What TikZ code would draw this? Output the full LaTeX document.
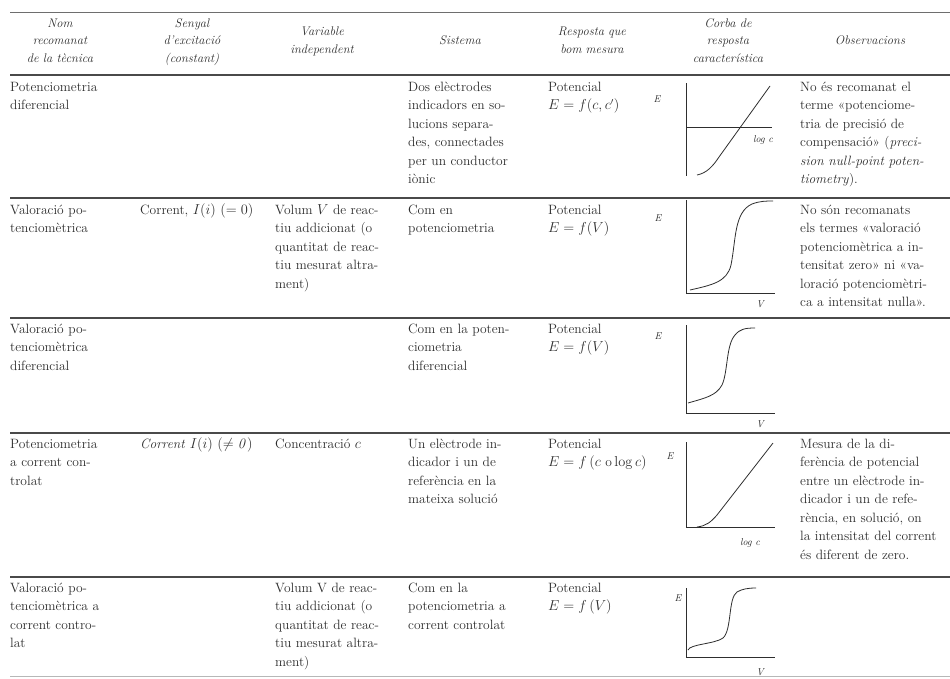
\documentclass[tikz,border=0pt]{standalone}
\usepackage{amsmath}
\usepackage{xcolor}
\usetikzlibrary{positioning}
\definecolor{inkgray}{HTML}{2E2E2E}
\definecolor{rulegray}{HTML}{4A4A4A}

\tikzset{
  cell/.style={anchor=base west, inner sep=0pt, text width=#1, align=left,
    font=\fontsize{13.5}{18.5}\selectfont, text=inkgray},
  cell/.default=130pt,
  head/.style={anchor=base, inner sep=0pt, text width=130pt, align=center,
    font=\fontsize{12.5}{17.5}\selectfont\itshape, text=inkgray},
  toprule/.style={draw=rulegray!80, line width=0.7pt},
  rowrule/.style={draw=rulegray, line width=1.3pt},
  axis/.style={draw=inkgray, line width=0.7pt},
  resp/.style={draw=inkgray, line width=0.8pt},
  axlabel/.style={inner sep=0pt, font=\fontsize{10}{12}\selectfont\itshape, text=inkgray}
}

\begin{document}
\begin{tikzpicture}[x=1pt, y=-1pt]
    \useasboundingbox (0,0) rectangle (950,678);
    \fill[white] (0,0) rectangle (950,678);

    % Rules
    \draw[toprule] (10,12) -- (950,12);
    \draw[rowrule] (10,75) -- (950,75);
    \draw[rowrule] (10,198) -- (950,198);
    \draw[rowrule] (10,318) -- (950,318);
    \draw[rowrule] (10,433) -- (950,433);
    \draw[rowrule] (10,577) -- (950,577);
    \draw[toprule, rulegray!40] (10,676) -- (950,676);

    % Header
    \node[head] (hnom) at (60,27) {Nom\\recomanat\\de la tècnica};
    \node[head] (hsenyal) at (192,27) {Senyal\\d'excitació\\(constant)};
    \node[head] (hvar) at (322,35.5) {Variable\\independent};
    \node[head] (hsis) at (460,44.5) {Sistema};
    \node[head] (hresp) at (592,35.5) {Resposta que\\bom mesura};
    \node[head] (hcorba) at (728,27) {Corba de\\resposta\\característica};
    \node[head] (hobs) at (870,44.5) {Observacions};

    % Row 1
    \node[cell] (nom1) at (10,91) {Potenciometria\\diferencial};
    \node[cell] (sis1) at (408,91) {Dos elèctrodes\\indicadors en so-\\lucions separa-\\des, connectades\\per un conductor\\iònic};
    \node[cell] (resp1) at (548,91) {Potencial\\$E=f(c,c')$};
    \node[cell=160pt] (obs1) at (800,91) {No és recomanat el\\terme «potenciome-\\tria de precisió de\\compensació» (\textit{preci-}\\\textit{sion null-point poten-}\\\textit{tiometry}).};

    % Row 2
    \node[cell] (nom2) at (10,214) {Valoració po-\\tenciomètrica};
    \node[cell] (sen2) at (140,214) {Corrent, $I(i)$ $(=0)$};
    \node[cell] (var2) at (275,214) {Volum $V$ de reac-\\tiu addicionat (o\\quantitat de reac-\\tiu mesurat altra-\\ment)};
    \node[cell] (sis2) at (408,214) {Com en\\potenciometria};
    \node[cell] (resp2) at (548,214) {Potencial\\$E=f(V)$};
    \node[cell=160pt] (obs2) at (800,214) {No són recomanats\\els termes «valoració\\potenciomètrica a in-\\tensitat zero» ni «va-\\loració potenciomètri-\\ca a intensitat nulla».};

    % Row 3
    \node[cell] (nom3) at (10,333) {Valoració po-\\tenciomètrica\\diferencial};
    \node[cell] (sis3) at (408,333) {Com en la poten-\\ciometria\\diferencial};
    \node[cell] (resp3) at (548,333) {Potencial\\$E=f(V)$};

    % Row 4
    \node[cell] (nom4) at (10,448) {Potenciometria\\a corrent con-\\trolat};
    \node[cell] (sen4) at (140,448) {\textit{Corrent} $I(i)$ $(\neq \mathit{0})$};
    \node[cell] (var4) at (275,448) {Concentració $c$};
    \node[cell] (sis4) at (408,448) {Un elèctrode in-\\dicador i un de\\referència en la\\mateixa solució};
    \node[cell] (resp4) at (548,448) {Potencial\\$E=f\,(c\text{ o}\log c)$};
    \node[cell=160pt] (obs4) at (800,448) {Mesura de la di-\\ferència de potencial\\entre un elèctrode in-\\dicador i un de refe-\\rència, en solució, on\\la intensitat del corrent\\és diferent de zero.};

    % Row 5
    \node[cell] (nom5) at (10,592) {Valoració po-\\tenciomètrica a\\corrent contro-\\lat};
    \node[cell] (var5) at (275,592) {Volum V de reac-\\tiu addicionat (o\\quantitat de reac-\\tiu mesurat altra-\\ment)};
    \node[cell] (sis5) at (408,592) {Com en la\\potenciometria a\\corrent controlat};
    \node[cell] (resp5) at (548,592) {Potencial\\$E=f\,(V)$};

    % Curve 1: E against log c
    \draw[axis] (686,83) -- (686,176);
    \draw[axis] (686,127) -- (772,127);
    \draw[resp] (697,175) .. controls (707,173) and (713,166) .. (719,157) -- (770,86);
    \node[axlabel] (e1) at (657,99) {E};
    \node[axlabel] (lc1) at (763,140) {log c};

    % Curve 2: E against V
    \draw[axis] (686,200) -- (686,293) -- (775,293);
    \draw[resp] (690,290) .. controls (712,285) and (727,282) .. (731,265) .. controls (736,240) and (734,212) .. (752,204) .. controls (760,201) and (766,201) .. (773,201);
    \node[axlabel] (e2) at (658,218) {E};
    \node[axlabel] (v2) at (760,304) {V};

    % Curve 3: E against V
    \draw[axis] (686,325) -- (686,413) -- (775,413);
    \draw[resp] (688,403) .. controls (705,398) and (716,396) .. (722,385) .. controls (728,372) and (726,345) .. (735,335) .. controls (740,329) and (745,328) .. (755,328);
    \node[axlabel] (e3) at (658,336) {E};
    \node[axlabel] (v3) at (760,424) {V};

    % Curve 4: E against log c
    \draw[axis] (686,442) -- (686,527) -- (775,527);
    \draw[resp] (697,527) .. controls (706,526) and (711,522) .. (717,515) -- (773,443);
    \node[axlabel] (e4) at (670,456) {E};
    \node[axlabel] (lc4) at (750,543) {log c};

    % Curve 5: E against V
    \draw[axis] (686,588) -- (686,657) -- (775,657);
    \draw[resp] (688,650) .. controls (690,644) and (715,644) .. (723,638) .. controls (732,630) and (728,598) .. (737,592) .. controls (742,589) and (748,588) .. (756,588);
    \node[axlabel] (e5) at (678,598) {E};
    \node[axlabel] (v5) at (760,672) {V};
\end{tikzpicture}
\end{document}
